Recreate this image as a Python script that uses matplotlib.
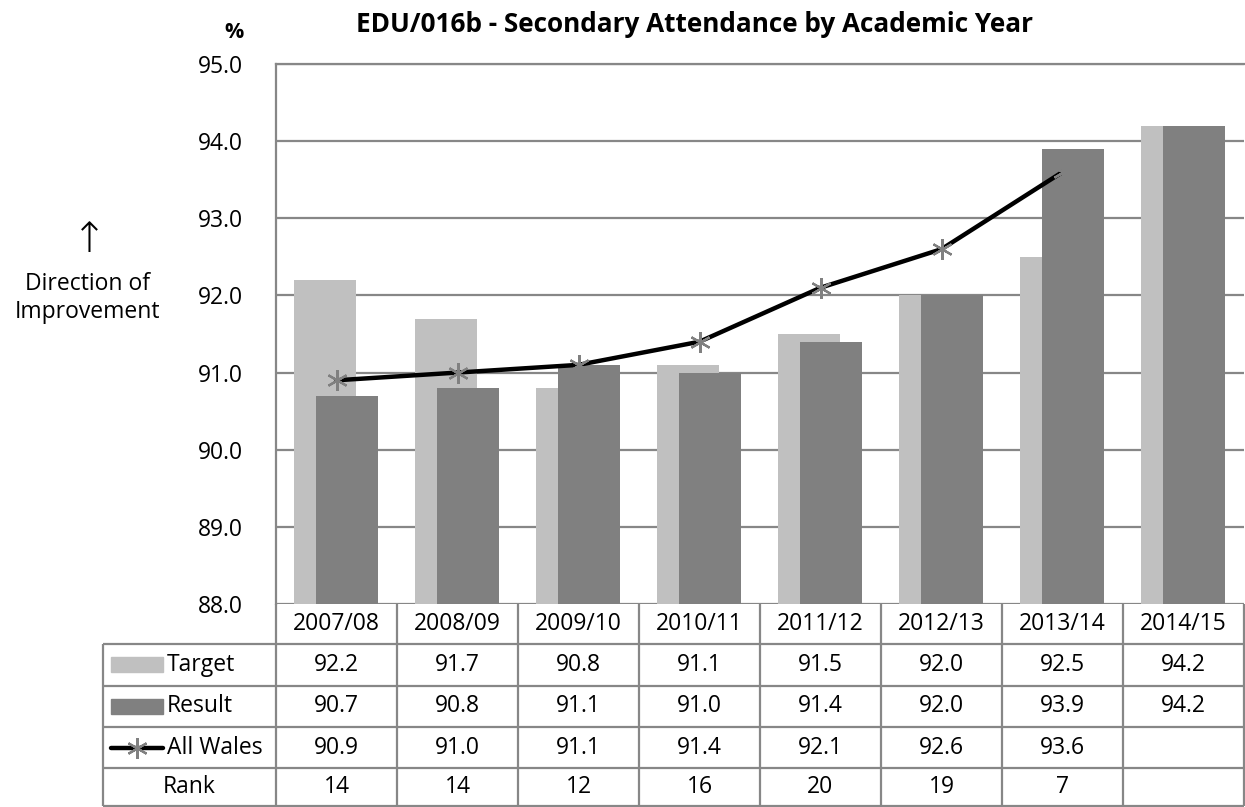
import matplotlib
matplotlib.use("Agg")
import matplotlib.pyplot as plt
import numpy as np
from matplotlib.patches import Rectangle

# data
years = ["2007/08", "2008/09", "2009/10", "2010/11", "2011/12", "2012/13", "2013/14", "2014/15"]
target = [92.2, 91.7, 90.8, 91.1, 91.5, 92.0, 92.5, 94.2]
result = [90.7, 90.8, 91.1, 91.0, 91.4, 92.0, 93.9, 94.2]
all_wales = [90.9, 91.0, 91.1, 91.4, 92.1, 92.6, 93.6]
rank = [14, 14, 12, 16, 20, 19, 7]

plt.rcParams['font.family'] = ['Open Sans', 'DejaVu Sans']
FS = 16.5
GRID = '#878787'
C_TARGET = '#c0c0c0'
C_RESULT = '#808080'

W, H = 1245, 807
fig = plt.figure(figsize=(W / 100, H / 100), dpi=100)

# plot area in pixels
left, right, top, bottom = 276, 1244, 64, 604
ax = fig.add_axes([left / W, 1 - bottom / H, (right - left) / W, (bottom - top) / H])

x = np.arange(len(years))
ax.bar(x - 0.095, target, width=0.515, color=C_TARGET, zorder=2)
ax.bar(x + 0.085, result, width=0.515, color=C_RESULT, zorder=3)
ax.plot(x[:len(all_wales)], all_wales, color='black', lw=3.2, solid_capstyle='round',
        marker=(6, 2, 0), ms=15, mec=C_RESULT, mew=1.6, zorder=4)

ax.set_xlim(-0.5, len(years) - 0.5)
ax.set_ylim(88, 95)
ax.set_yticks(np.arange(88, 95.5, 1))
ax.set_yticklabels([f"{v:.1f}" for v in np.arange(88, 95.5, 1)], fontsize=FS)
ax.set_xticks([])
ax.tick_params(axis='y', length=0, pad=24)
ax.grid(axis='y', color=GRID, lw=1.6, zorder=0)
ax.set_axisbelow(True)
for s in ['right', 'bottom']:
    ax.spines[s].set_visible(False)
ax.spines['left'].set_color(GRID)
ax.spines['left'].set_linewidth(1.6)
ax.spines['top'].set_color(GRID)
ax.spines['top'].set_linewidth(1.6)

fig.text(694 / W, 1 - 32 / H, "EDU/016b - Secondary Attendance by Academic Year",
         fontsize=18.8, fontweight='bold', ha='center', va='baseline')
fig.text(234 / W, 1 - 38 / H, "%", fontsize=15.5, fontweight='bold', ha='center', va='baseline')
fig.text(89 / W, 1 - 240 / H, "↑", fontsize=30, ha='center', va='center',
         family='DejaVu Sans', fontweight='light')
fig.text(87 / W, 1 - 290 / H, "Direction of", fontsize=FS, ha='center', va='baseline')
fig.text(87 / W, 1 - 318 / H, "Improvement", fontsize=FS, ha='center', va='baseline')

# data table drawn underneath in pixel coordinates
tab = fig.add_axes([0, 0, 1, 1], zorder=5)
tab.set_xlim(0, W)
tab.set_ylim(H, 0)
tab.axis('off')
tab.patch.set_alpha(0)

cw = (right - left) / len(years)
rows = [604, 644, 686, 727, 768, 806]
lab_left = 103
kw = dict(color=GRID, lw=1.6, solid_capstyle='butt')
for y in rows[1:]:
    tab.plot([lab_left, right], [y, y], **kw)
for k in range(len(years) + 1):
    tab.plot([left + k * cw, left + k * cw], [rows[0], rows[-1]], **kw)
tab.plot([lab_left, lab_left], [rows[1], rows[-1]], **kw)

def yc(i):
    return (rows[i] + rows[i + 1]) / 2

for i, yr in enumerate(years):
    cx = left + (i + 0.5) * cw
    tab.text(cx, yc(0), yr, fontsize=FS, ha='center', va='center')
    tab.text(cx, yc(1), f"{target[i]:.1f}", fontsize=FS, ha='center', va='center')
    tab.text(cx, yc(2), f"{result[i]:.1f}", fontsize=FS, ha='center', va='center')
    if i < len(all_wales):
        tab.text(cx, yc(3), f"{all_wales[i]:.1f}", fontsize=FS, ha='center', va='center')
    if i < len(rank):
        tab.text(cx, yc(4), str(rank[i]), fontsize=FS, ha='center', va='center')

# legend keys in the row headers
tab.add_patch(Rectangle((111, yc(1) - 8), 52, 15, color=C_TARGET))
tab.add_patch(Rectangle((111, yc(2) - 8), 52, 15, color=C_RESULT))
tab.plot([111, 163], [yc(3), yc(3)], color='black', lw=3.2, solid_capstyle='round')
tab.plot([137], [yc(3)], marker=(6, 2, 0), ms=15, mec=C_RESULT, mew=1.6)
tab.text(167, yc(1), "Target", fontsize=FS, ha='left', va='center')
tab.text(167, yc(2), "Result", fontsize=FS, ha='left', va='center')
tab.text(167, yc(3), "All Wales", fontsize=FS, ha='left', va='center')
tab.text((lab_left + left) / 2, yc(4), "Rank", fontsize=FS, ha='center', va='center')

fig.savefig("out.png", dpi=100)
